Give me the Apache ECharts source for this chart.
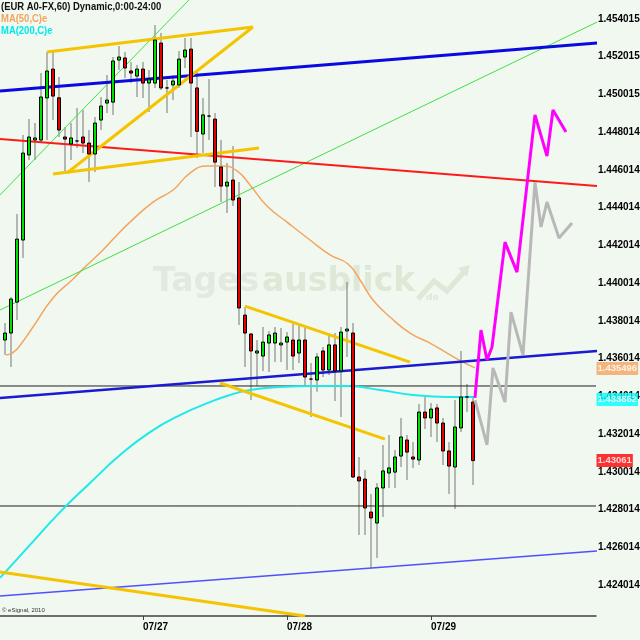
<!DOCTYPE html>
<html><head><meta charset="utf-8">
<script src="https://cdn.jsdelivr.net/npm/echarts@6/dist/echarts.min.js"></script>
<style>html,body{margin:0;padding:0;background:#f0f8f0}#c{width:640px;height:640px}</style>
</head><body><div id="c"></div>
<script>
// ---- data ----
const days = ['07/26', '07/27', '07/28', '07/29', '07/30'];
const hourCount = 100;          // hourly slots on the axis, from 07/26 00:00
const firstCandle = 1;          // slot index of the first candle
const opens = [1.43700,1.43737,1.43901,1.44230,1.44681,1.44760,1.44760,1.44983,1.45136,1.44984,
  1.44776,1.44739,1.44755,1.44776,1.44744,1.44686,1.44866,1.44956,1.44961,1.45184,
  1.45195,1.45126,1.45099,1.45136,1.45062,1.45062,1.45274,1.45036,1.45052,1.45052,
  1.45200,1.45242,1.45036,1.44792,1.44887,1.44871,1.44617,1.44516,1.44548,1.44453,
  1.43832,1.43732,1.43631,1.43615,1.43684,1.43684,1.43674,1.43689,1.43700,1.43631,
  1.43700,1.43493,1.43488,1.43642,1.43541,1.43674,1.43536,1.43748,1.43737,1.42974,
  1.42963,1.42788,1.42730,1.42916,1.42995,1.43000,1.43085,1.43170,1.43080,1.43064,
  1.43318,1.43287,1.43340,1.43260,1.43112,1.43027,1.43234,1.43398,1.43371];
const closes = [1.43737,1.43917,1.44235,1.44691,1.44776,1.44771,1.44988,1.45126,1.44993,1.44813,
  1.44765,1.44771,1.44755,1.44744,1.44686,1.44850,1.44940,1.44972,1.45179,1.45200,
  1.45142,1.45115,1.45136,1.45062,1.45083,1.45290,1.45036,1.45036,1.45073,1.45189,
  1.45237,1.45062,1.44806,1.44893,1.44887,1.44643,1.44516,1.44537,1.44442,1.43870,
  1.43737,1.43642,1.43642,1.43689,1.43727,1.43737,1.43684,1.43716,1.43615,1.43700,
  1.43504,1.43493,1.43610,1.43541,1.43674,1.43536,1.43742,1.43758,1.42974,1.42953,
  1.42810,1.42757,1.42916,1.43006,1.43022,1.43080,1.43186,1.43106,1.43069,1.43318,
  1.43287,1.43334,1.43260,1.43112,1.43032,1.43239,1.43398,1.43398,1.43061];
const lows = [1.43621,1.43557,1.43806,1.44135,1.44654,1.44654,1.44744,1.44760,1.44866,1.44776,
  1.44585,1.44654,1.44718,1.44691,1.44537,1.44590,1.44813,1.44903,1.44893,1.45131,
  1.45089,1.45062,1.44988,1.44983,1.44908,1.45036,1.45025,1.44903,1.44972,1.45036,
  1.45142,1.44776,1.44665,1.44691,1.44760,1.44511,1.44431,1.44373,1.44410,1.43780,
  1.43557,1.43382,1.43456,1.43536,1.43530,1.43583,1.43583,1.43541,1.43541,1.43578,
  1.43451,1.43292,1.43426,1.43504,1.43514,1.43377,1.43292,1.43610,1.42969,1.42667,
  1.42667,1.42492,1.42545,1.42762,1.42916,1.42916,1.43027,1.42958,1.43022,1.43038,
  1.43228,1.43186,1.43159,1.43038,1.42884,1.42804,1.43213,1.43318,1.42932];
const highs = [1.43790,1.43928,1.44368,1.44787,1.44871,1.44850,1.45115,1.45226,1.45226,1.45094,
  1.44829,1.44850,1.44930,1.44919,1.44813,1.44882,1.44988,1.45105,1.45200,1.45258,
  1.45226,1.45173,1.45158,1.45173,1.45131,1.45370,1.45327,1.45078,1.45105,1.45232,
  1.45301,1.45301,1.45131,1.44983,1.45083,1.44903,1.44760,1.44638,1.44728,1.44537,
  1.43875,1.43737,1.43700,1.43769,1.43748,1.43769,1.43764,1.43742,1.43785,1.43780,
  1.43774,1.43578,1.43631,1.43663,1.43737,1.43737,1.43769,1.44007,1.43790,1.43080,
  1.43011,1.42884,1.42942,1.43144,1.43197,1.43117,1.43287,1.43197,1.43159,1.43361,
  1.43398,1.43366,1.43361,1.43287,1.43159,1.43382,1.43642,1.43467,1.43398];

// moving averages: [hour slot, price]
const ma50 = [[1.17,1.43621],[2.17,1.43631],[3.17,1.43658],[5.67,1.43769],[9,1.43923],[12.17,1.44018],
  [14.5,1.44092],[17.33,1.44177],[19.67,1.44257],[21.83,1.44325],[25.67,1.44431],[29,1.44495],
  [31.83,1.44585],[34.67,1.44622],[37.33,1.44622],[39.67,1.44596],[41.83,1.44522],[44.67,1.44410],
  [48,1.44325],[51.83,1.44230],[55.17,1.44151],[58.17,1.44103],[60.17,1.44018],[62.33,1.43912],
  [65.17,1.43822],[68.5,1.43737],[71.83,1.43684],[75.17,1.43621],[77.33,1.43583],[79.33,1.43552]];
const ma200 = [[0.17,1.42439],[5.17,1.42614],[10.17,1.42788],[15.17,1.42942],[20.17,1.43090],
  [25.17,1.43212],[30.17,1.43302],[35.17,1.43371],[38.5,1.43409],[41.83,1.43435],[46.83,1.43451],
  [52.33,1.43456],[58,1.43456],[63.5,1.43435],[69,1.43409],[74.67,1.43398],[79.33,1.43398]];

// drawn trend lines: [hour slot, price] pairs
const blueThick = [[0.17,1.45020],[99.67,1.45274]];
const blueMid = [[0.17,1.43393],[99.67,1.43642]];
const blueThin = [[0.17,1.42343],[99.67,1.42582]];
const redLine = [[0.17,1.44765],[99.67,1.44516]];
const greenLong = [[0.17,1.43859],[99.67,1.45385]];
const greenSteep = [[0.17,1.44469],[33.5,1.45563]];
const yellowLines = [
  [[8,1.45226],[42.33,1.45359]],
  [[11.33,1.44585],[42.33,1.45359]],
  [[9,1.44580],[43.33,1.44718]],
  [[41,1.43880],[68.5,1.43583]],
  [[36.83,1.43472],[64.33,1.43175]],
  [[0.17,1.42470],[51,1.42237]]
];
const hLines = [1.434563, 1.428203];

// projections
const magentaPath = [[79.33,1.43393],[80.33,1.43753],[81.33,1.43594],[82.17,1.43663],[84.33,1.44219],
  [86.33,1.44060],[89.33,1.44893],[91.33,1.44675],[92.33,1.44919],[94.5,1.44802]];
const grayPath = [[79.33,1.43382],[81.33,1.43144],[82.33,1.43552],[84.33,1.43371],[85.33,1.43848],
  [87.33,1.43621],[89.33,1.44537],[90.33,1.44299],[91.33,1.44431],[93.33,1.44241],[95.5,1.44320]];

const yTicks = [1.424014,1.426014,1.428014,1.430014,1.432014,1.434014,1.436014,1.438014,
  1.440014,1.442014,1.444014,1.446014,1.448014,1.450015,1.452015,1.454015];
const yMin = 1.422372, yMax = 1.455022;
const priceTags = [1.435496, 1.433852, 1.43061];   // MA50, MA200, last price
const priceTagColors = ['#f4a460', '#00ffff', '#ff0000'];

// ---- build ----
const categories = [];
for (let i = 0; i < hourCount; i++) {
  const h = i % 24;
  categories.push(days[Math.floor(i / 24)] + ' ' + (h < 10 ? '0' : '') + h + ':00');
}
const wickData = [], bodyData = [];
for (let i = 0; i < opens.length; i++) {
  const k = firstCandle + i;
  wickData.push([k, lows[i], highs[i], lows[i], highs[i]]);
  bodyData.push([k, opens[i], closes[i], Math.min(opens[i], closes[i]), Math.max(opens[i], closes[i])]);
}
const FONT = '"Liberation Sans", Arial, sans-serif';
const showDay = (i) => i % 24 === 0 && i > 0 && i < 96;

function lineSeries(data, color, width, extra) {
  return Object.assign({
    type: 'line', xAxisIndex: 1, yAxisIndex: 0, data: data, symbol: 'none',
    lineStyle: { color: color, width: width }, silent: true, z: 3
  }, extra || {});
}

const series = [];
series.push({
  type: 'candlestick', xAxisIndex: 0, yAxisIndex: 0, data: wickData, barWidth: 2,
  encode: { x: 0, y: [1, 2, 3, 4] },
  itemStyle: { color: '#767676', color0: '#767676', borderColor: '#767676', borderColor0: '#767676', borderWidth: 0 },
  z: 2, silent: true
});
series.push({
  type: 'candlestick', xAxisIndex: 0, yAxisIndex: 0, data: bodyData, barWidth: 4,
  encode: { x: 0, y: [1, 2, 3, 4] },
  itemStyle: { color: '#00e000', color0: '#e80000', borderColor: '#000', borderColor0: '#000', borderColorDoji: '#000', borderWidth: 1 },
  z: 4, silent: true
});
series.push(lineSeries([[-0.5, hLines[0]], [99.5, hLines[0]]], '#202020', 1));
series.push(lineSeries([[-0.5, hLines[1]], [99.5, hLines[1]]], '#202020', 1));
series.push(lineSeries(ma200, '#20e8e8', 2, { smooth: true }));
series.push(lineSeries(ma50, '#f4a460', 1.5, { smooth: true }));
series.push(lineSeries(greenLong, '#40e040', 1));
series.push(lineSeries(greenSteep, '#40e040', 1));
series.push(lineSeries(redLine, '#ff1a1a', 2));
series.push(lineSeries(blueThick, '#0a0ae0', 3));
series.push(lineSeries(blueMid, '#1a1ad0', 2.5));
series.push(lineSeries(blueThin, '#5050ff', 1.5));
yellowLines.forEach(l => series.push(lineSeries(l, '#f5c400', 3)));
series.push(lineSeries(grayPath, '#b8b8b8', 3, { z: 5 }));
series.push(lineSeries(magentaPath, '#ff00ff', 3, { z: 6 }));
// price tags on the right axis
series.push({
  type: 'scatter', xAxisIndex: 1, yAxisIndex: 0, silent: true, z: 20, clip: false,
  symbol: 'rect', symbolSize: 1, itemStyle: { color: 'rgba(0,0,0,0)' },
  data: priceTags.map((v, i) => ({
    value: [hourCount - 0.5, v],
    label: { backgroundColor: priceTagColors[i] }
  })),
  label: { show: true, position: 'right', distance: 0, formatter: (p) => String(p.value[1]),
    color: '#fff', padding: [2, 1, 1, 1], fontFamily: FONT, fontWeight: 'bold', fontSize: 9.5 },
  labelLayout: { hideOverlap: false }
});

const chart = echarts.init(document.getElementById('c'), null, { renderer: 'canvas' });
chart.setOption({
  animation: false,
  backgroundColor: '#f0f8f0',
  grid: { left: -4, right: 44, top: 0, bottom: 24, containLabel: false, outerBoundsMode: 'none' },
  xAxis: [{
    type: 'category', data: categories, boundaryGap: true,
    axisLine: { show: true, lineStyle: { color: '#404040', width: 1.5 } },
    axisTick: { show: true, alignWithLabel: true, length: 4, interval: showDay, lineStyle: { color: '#404040' } },
    axisLabel: { interval: showDay, formatter: (v) => v.split(' ')[0], align: 'left', margin: 6,
      color: '#000', fontFamily: FONT, fontWeight: 'bold', fontSize: 10 },
    splitLine: { show: false }
  }, {
    type: 'value', min: -0.5, max: hourCount - 0.5, show: false
  }],
  yAxis: [{
    type: 'value', position: 'right', min: yMin, max: yMax, scale: true,
    axisLine: { show: true, lineStyle: { color: '#404040', width: 1.5 } },
    axisTick: { show: false },
    splitLine: { show: false },
    axisLabel: { customValues: yTicks, formatter: (v) => v.toFixed(6), margin: 2, color: '#000',
      fontFamily: FONT, fontWeight: 'bold', fontSize: 10 }
  }],
  graphic: [
    { type: 'text', left: 153, top: 266, z: -10, style: { text: 'Tages', fill: '#e2e9e0', fontFamily: 'DejaVu Sans', fontWeight: 'bold', fontSize: 33 } },
    { type: 'text', left: 262, top: 266, z: -10, style: { text: 'ausblick', fill: '#dde9d6', fontFamily: 'DejaVu Sans', fontWeight: 'bold', fontSize: 33 } },
    { type: 'text', left: 426, top: 293, z: -10, style: { text: 'de', fill: '#dde6da', fontFamily: 'DejaVu Sans', fontWeight: 'bold', fontSize: 9 } },
    { type: 'polyline', z: -10, shape: { points: [[418, 299], [434, 281], [447, 291], [464, 272]] }, style: { stroke: '#dde9d6', lineWidth: 5, fill: null } },
    { type: 'polygon', z: -10, shape: { points: [[458, 268], [470, 265], [467, 277]] }, style: { fill: '#dde9d6' } },
    { type: 'text', x: 1, y: 1, scaleX: 0.86, z: 100, style: { text: '(EUR A0-FX,60) Dynamic,0:00-24:00', fill: '#111', fontFamily: FONT, fontWeight: 'bold', fontSize: 11 } },
    { type: 'text', x: 1, y: 13, scaleX: 0.86, z: 100, style: { text: 'MA(50,C)e', fill: '#f4a460', fontFamily: FONT, fontWeight: 'bold', fontSize: 11 } },
    { type: 'text', x: 1, y: 25, scaleX: 0.86, z: 100, style: { text: 'MA(200,C)e', fill: '#00e8f0', fontFamily: FONT, fontWeight: 'bold', fontSize: 11 } },
    { type: 'text', x: 2, y: 607, z: 100, style: { text: '\u00a9 eSignal, 2010', fill: '#333', fontFamily: 'Liberation Sans', fontSize: 6 } }
  ],
  series: series
});
</script></body></html>
